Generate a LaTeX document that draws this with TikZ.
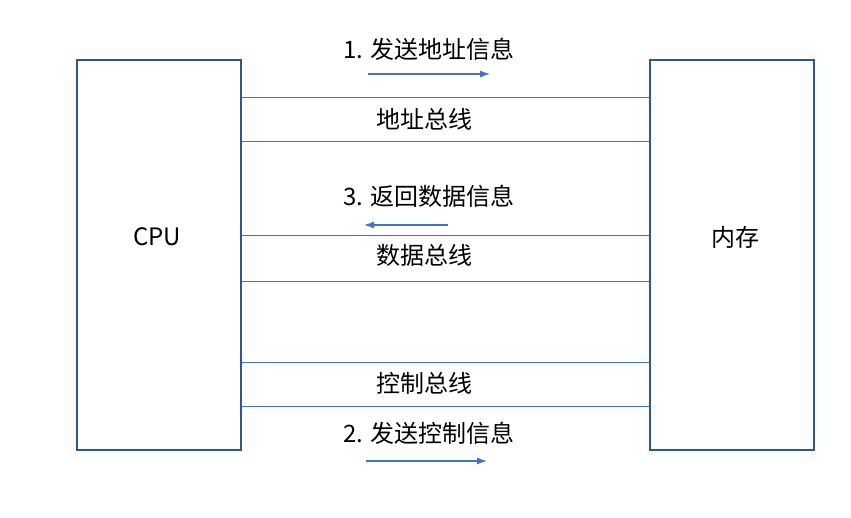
\documentclass[tikz,border=0pt]{standalone}
\usepackage{fontspec}
\setmainfont{Noto Sans CJK SC}
\usetikzlibrary{arrows.meta}
\definecolor{boxblue}{HTML}{2F5597}
\definecolor{lineblue}{HTML}{4472C4}

\begin{document}
\begin{tikzpicture}[x=1pt, y=-1pt, font=\fontsize{24}{28}\selectfont,
  unit/.style={draw=boxblue, line width=1.1pt, minimum width=164pt,
    minimum height=390pt, inner sep=0pt},
  bus/.style={draw=lineblue, line width=0.9pt},
  flow/.style={draw=lineblue, line width=1.1pt, -{Latex[length=10pt,width=7pt]}}]
  \useasboundingbox (0,0) rectangle (851,517);
  % --- the two units ---
  \node[unit] (cpu) at (159,255) {};
  \node[unit] (mem) at (732,255) {};
  \node (cpulabel) at (157,237) {CPU};
  \node (memlabel) at (735,237) {内存};
  % --- the bus lines ---
  \foreach \y in {97,141,235,281,362,406}
    \draw[bus] (cpu.east |- 0,\y) -- (mem.west |- 0,\y);
  \node (abus) at (424,119) {地址总线};
  \node (dbus) at (424,255) {数据总线};
  \node (cbus) at (424,383) {控制总线};
  % --- the steps ---
  \node (step1) at (429,49) {1. 发送地址信息};
  \node (step3) at (429,196) {3. 返回数据信息};
  \node (step2) at (429,433) {2. 发送控制信息};
  \coordinate (s1a) at (368,74);  \coordinate (s1b) at (490,74);
  \coordinate (s3a) at (448,225); \coordinate (s3b) at (364,225);
  \coordinate (s2a) at (366,461); \coordinate (s2b) at (487,461);
  \draw[flow] (s1a) -- (s1b);
  \draw[flow] (s3a) -- (s3b);
  \draw[flow] (s2a) -- (s2b);
\end{tikzpicture}
\end{document}
